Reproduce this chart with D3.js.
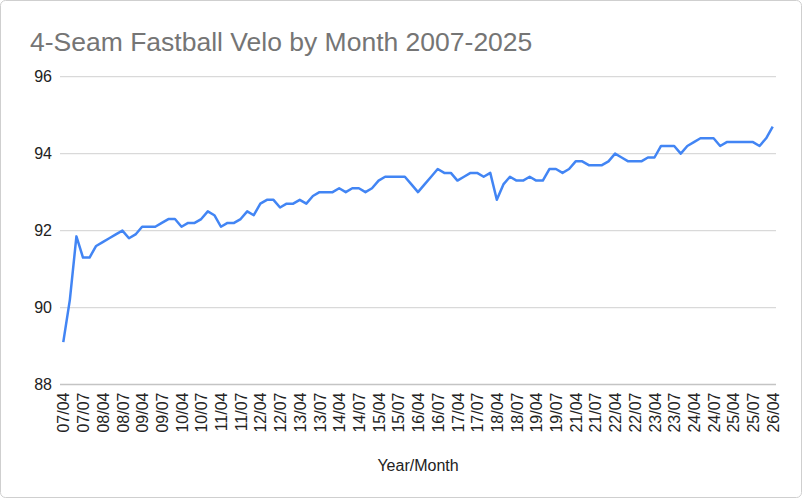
<!DOCTYPE html>
<html>
<head>
<meta charset="utf-8">
<script src="https://cdn.jsdelivr.net/npm/d3@7"></script>
<style>
  html, body { margin: 0; padding: 0; background: #fff; }
  svg { display: block; font-family: Arial, "Liberation Sans", sans-serif; }
</style>
</head>
<body>
<svg id="chart" width="802" height="498"></svg>
<script>
const title = "4-Seam Fastball Velo by Month 2007-2025";
const xAxisTitle = "Year/Month";

const categories = [
  "07/04","07/05","07/06","07/07","07/08","07/09",
  "08/04","08/05","08/06","08/07","08/08","08/09",
  "09/04","09/05","09/06","09/07","09/08","09/09",
  "10/04","10/05","10/06","10/07","10/08","10/09",
  "11/04","11/05","11/06","11/07","11/08","11/09",
  "12/04","12/05","12/06","12/07","12/08","12/09",
  "13/04","13/05","13/06","13/07","13/08","13/09",
  "14/04","14/05","14/06","14/07","14/08","14/09",
  "15/04","15/05","15/06","15/07","15/08","15/09",
  "16/04","16/05","16/06","16/07","16/08","16/09",
  "17/04","17/05","17/06","17/07","17/08","17/09",
  "18/04","18/05","18/06","18/07","18/08","18/09",
  "19/04","19/05","19/06","19/07","19/08","19/09",
  "21/04","21/05","21/06","21/07","21/08","21/09",
  "22/04","22/05","22/06","22/07","22/08","22/09",
  "23/04","23/05","23/06","23/07","23/08","23/09",
  "24/04","24/05","24/06","24/07","24/08","24/09",
  "25/04","25/05","25/06","25/07","25/08","25/09",
  "26/04"
];

const velo = [
  89.1, 90.2, 91.85, 91.3, 91.3, 91.6,
  91.7, 91.8, 91.9, 92.0, 91.8, 91.9,
  92.1, 92.1, 92.1, 92.2, 92.3, 92.3,
  92.1, 92.2, 92.2, 92.3, 92.5, 92.4,
  92.1, 92.2, 92.2, 92.3, 92.5, 92.4,
  92.7, 92.8, 92.8, 92.6, 92.7, 92.7,
  92.8, 92.7, 92.9, 93.0, 93.0, 93.0,
  93.1, 93.0, 93.1, 93.1, 93.0, 93.1,
  93.3, 93.4, 93.4, 93.4, 93.4, 93.2,
  93.0, 93.2, 93.4, 93.6, 93.5, 93.5,
  93.3, 93.4, 93.5, 93.5, 93.4, 93.5,
  92.8, 93.2, 93.4, 93.3, 93.3, 93.4,
  93.3, 93.3, 93.6, 93.6, 93.5, 93.6,
  93.8, 93.8, 93.7, 93.7, 93.7, 93.8,
  94.0, 93.9, 93.8, 93.8, 93.8, 93.9,
  93.9, 94.2, 94.2, 94.2, 94.0, 94.2,
  94.3, 94.4, 94.4, 94.4, 94.2, 94.3,
  94.3, 94.3, 94.3, 94.3, 94.2, 94.4,
  94.7
];

const yTicks = [88, 90, 92, 94, 96];
const xTickLabels = [
  "07/04","07/07","08/04","08/07","09/04","09/07","10/04","10/07",
  "11/04","11/07","12/04","12/07","13/04","13/07","14/04","14/07",
  "15/04","15/07","16/04","16/07","17/04","17/07","18/04","18/07",
  "19/04","19/07","21/04","21/07","22/04","22/07","23/04","23/07",
  "24/04","24/07","25/04","25/07","26/04"
];

const svg = d3.select("#chart");
const W = 802, H = 498;

svg.append("rect")
  .attr("x", 0.5).attr("y", 0.5)
  .attr("width", W - 1).attr("height", H - 1)
  .attr("rx", 5).attr("ry", 5)
  .attr("fill", "#fff").attr("stroke", "#cfcfcf");

const plot = { left: 60, right: 776, top: 76.7, bottom: 384.5 };

const x = d3.scalePoint()
  .domain(categories)
  .range([plot.left, plot.right])
  .padding(0.5);

const y = d3.scaleLinear()
  .domain([88, 96])
  .range([plot.bottom, plot.top]);

// gridlines
svg.append("g")
  .selectAll("line")
  .data(yTicks)
  .join("line")
  .attr("x1", plot.left).attr("x2", plot.right)
  .attr("y1", d => y(d)).attr("y2", d => y(d))
  .attr("stroke", d => d === 88 ? "#c4c4c4" : "#d9d9d9")
  .attr("stroke-width", 1.3);

// y axis labels
const yAxis = d3.axisLeft(y).tickValues(yTicks).tickSize(0).tickPadding(8)
  .tickFormat(d3.format("d"));
const gy = svg.append("g").attr("transform", `translate(${plot.left},0)`).call(yAxis);
gy.select(".domain").remove();
gy.selectAll("text")
  .attr("font-size", 16).attr("fill", "#222")
  .attr("font-family", "Arial, 'Liberation Sans', sans-serif");

// x axis labels (rotated)
const xAxis = d3.axisBottom(x).tickValues(xTickLabels).tickSize(0).tickPadding(0);
const gx = svg.append("g").attr("transform", `translate(0,${plot.bottom})`).call(xAxis);
gx.select(".domain").remove();
gx.selectAll("text")
  .attr("font-size", 16).attr("fill", "#222")
  .attr("font-family", "Arial, 'Liberation Sans', sans-serif")
  .attr("transform", "rotate(-90)")
  .attr("text-anchor", "end")
  .attr("x", -8)
  .attr("y", 0)
  .attr("dy", "0.35em");

// line
const line = d3.line()
  .x((d, i) => x(categories[i]))
  .y(d => y(d));

svg.append("path")
  .datum(velo)
  .attr("fill", "none")
  .attr("stroke", "#4285F4")
  .attr("stroke-width", 2.5)
  .attr("stroke-linejoin", "round")
  .attr("d", line);

// title
svg.append("text")
  .attr("x", 30).attr("y", 51)
  .attr("font-size", 26.5)
  .attr("fill", "#757575")
  .text(title);

// x axis title
svg.append("text")
  .attr("x", (plot.left + plot.right) / 2).attr("y", 471)
  .attr("text-anchor", "middle")
  .attr("font-size", 16)
  .attr("fill", "#222")
  .text(xAxisTitle);
</script>
</body>
</html>
